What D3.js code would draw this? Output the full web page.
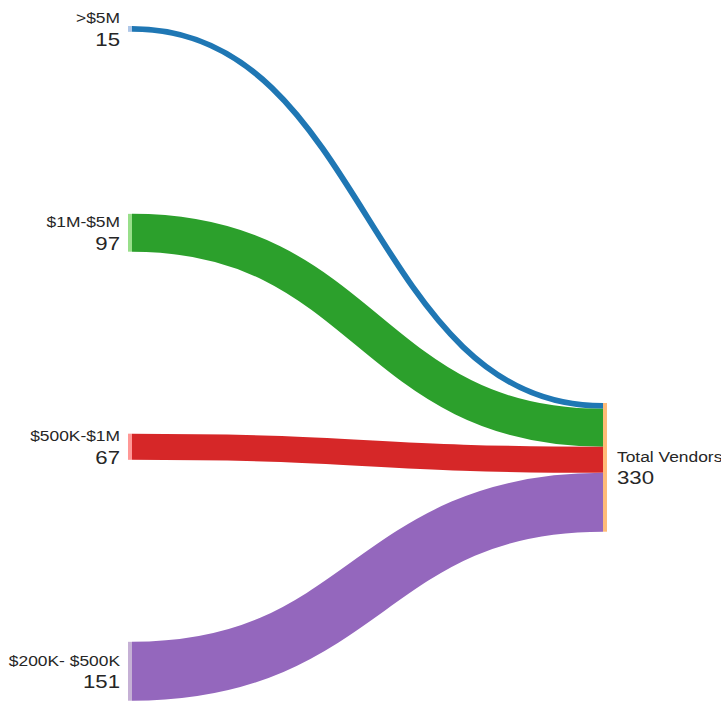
<!DOCTYPE html>
<html>
<head>
<meta charset="utf-8">
<script src="https://cdn.jsdelivr.net/npm/d3@7"></script>
<style>
  body { margin: 0; background: #fff; }
  text { font-family: "Liberation Sans", Arial, sans-serif; fill: #262626; }
</style>
</head>
<body>
<div id="chart"></div>
<script>
// Vendor counts by contract size
const sources = [">$5M", "$1M-$5M", "$500K-$1M", "$200K- $500K"];
const counts = [15, 97, 67, 151];
const targetName = "Total Vendors";

// colours (category20 pairs: dark for links, light for nodes)
const linkColors = ["#1f77b4", "#2ca02c", "#d62728", "#9467bd"];
const nodeColors = ["#aec7e8", "#98df8a", "#ff9896", "#c5b0d5"];
const targetColor = "#ffbb78";

const width = 721, height = 701;
const nodeWidth = 4;
const leftX = 128, rightX = 603;
const leftTop = 26, nodePadding = 182, rightTop = 403;
const total = d3.sum(counts);

const svg = d3.select("#chart")
  .append("svg")
  .attr("width", width)
  .attr("height", height);

// value -> pixel thickness
const k = d3.scaleLinear().domain([0, total]).range([0, 128.7]);

// stack source nodes on the left, links stacked on the right node
let yl = leftTop, yr = rightTop;
const nodes = sources.map((name, i) => {
  const h = k(counts[i]);
  const n = { name, value: counts[i], y0: yl, y1: yl + h, ty0: yr, ty1: yr + h, i };
  yl += h + nodePadding;
  yr += h;
  return n;
});

const link = d3.linkHorizontal().x(d => d[0]).y(d => d[1]);

// links
svg.append("g")
  .attr("fill", "none")
  .selectAll("path")
  .data(nodes)
  .join("path")
  .attr("d", d => link({
    source: [leftX + nodeWidth, (d.y0 + d.y1) / 2],
    target: [rightX, (d.ty0 + d.ty1) / 2]
  }))
  .attr("stroke", d => linkColors[d.i])
  .attr("stroke-width", d => Math.max(1, d.y1 - d.y0));

// source nodes
svg.append("g")
  .selectAll("rect")
  .data(nodes)
  .join("rect")
  .attr("x", leftX)
  .attr("y", d => d.y0)
  .attr("width", nodeWidth)
  .attr("height", d => d.y1 - d.y0)
  .attr("fill", d => nodeColors[d.i]);

// target node
svg.append("rect")
  .attr("x", rightX)
  .attr("y", rightTop)
  .attr("width", nodeWidth)
  .attr("height", k(total))
  .attr("fill", targetColor);

// labels (text drawn slightly wide like the original)
function label(x, cy, anchor, name, value) {
  const g = svg.append("g")
    .attr("transform", `translate(${x},${cy}) scale(1.2,1)`)
    .attr("text-anchor", anchor);
  g.append("text").attr("y", -5.5).attr("font-size", "14.5px").text(name);
  g.append("text").attr("y", 17).attr("font-size", "18.5px").text(value);
}

nodes.forEach(d => label(leftX - 8, (d.y0 + d.y1) / 2, "end", d.name, d.value));
label(rightX + nodeWidth + 10, rightTop + k(total) / 2, "start", targetName, total);
</script>
</body>
</html>
